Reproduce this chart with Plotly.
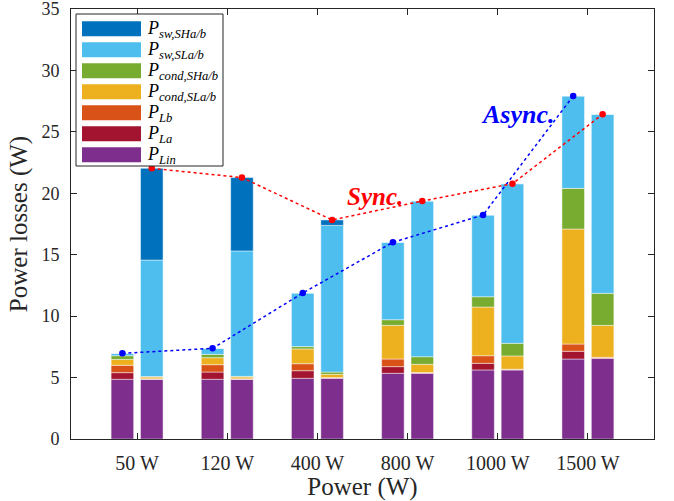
import plotly.graph_objects as go

# ---------------- data ----------------
categories = ["50 W", "120 W", "400 W", "800 W", "1000 W", "1500 W"]
y_ticks = [0, 5, 10, 15, 20, 25, 30, 35]

# Asynchronous (left bars)
async_Lin = [4.86, 4.86, 4.94, 5.35, 5.62, 6.51]
async_La = [0.54, 0.59, 0.62, 0.54, 0.54, 0.63]
async_Lb = [0.60, 0.60, 0.57, 0.62, 0.62, 0.59]
async_condSL = [0.48, 0.57, 1.20, 2.74, 3.96, 9.36]
async_condSH = [0.30, 0.27, 0.19, 0.46, 0.84, 3.31]
async_swSL = [0.19, 0.49, 4.36, 6.30, 6.65, 7.52]
async_swSH = [0.00, 0.00, 0.00, 0.00, 0.00, 0.00]

# Synchronous (right bars)
sync_Lin = [4.86, 4.86, 4.94, 5.35, 5.62, 6.57]
sync_La = [0.02, 0.02, 0.03, 0.03, 0.03, 0.03]
sync_Lb = [0.02, 0.02, 0.03, 0.03, 0.03, 0.05]
sync_condSL = [0.15, 0.15, 0.26, 0.67, 1.08, 2.60]
sync_condSH = [0.03, 0.05, 0.19, 0.62, 1.03, 2.61]
sync_swSL = [9.49, 10.21, 11.94, 12.67, 12.99, 14.57]
sync_swSH = [7.46, 5.97, 0.44, 0.00, 0.00, 0.00]

names = ["P_Lin", "P_La", "P_Lb", "P_cond,SLa/b", "P_cond,SHa/b", "P_sw,SLa/b", "P_sw,SHa/b"]
labels_html = [
    "<i>P</i><sub><i>Lin</i></sub>",
    "<i>P</i><sub><i>La</i></sub>",
    "<i>P</i><sub><i>Lb</i></sub>",
    "<i>P</i><sub><i>cond,SLa/b</i></sub>",
    "<i>P</i><sub><i>cond,SHa/b</i></sub>",
    "<i>P</i><sub><i>sw,SLa/b</i></sub>",
    "<i>P</i><sub><i>sw,SHa/b</i></sub>",
]
colors = ["#7E2F8E", "#A2142F", "#D95319", "#EDB120", "#77AC30", "#4DBEEE", "#0072BD"]

async_parts = [async_Lin, async_La, async_Lb, async_condSL, async_condSH, async_swSL, async_swSH]
sync_parts = [sync_Lin, sync_La, sync_Lb, sync_condSL, sync_condSH, sync_swSL, sync_swSH]

# ---------------- figure ----------------
idx = list(range(1, len(categories) + 1))
OFF = 0.163
BW = 0.25
x_async = [i - OFF for i in idx]
x_sync = [i + OFF for i in idx]

FONT = "Liberation Serif, Times New Roman, serif"
fig = go.Figure()

for name, col, a, s in zip(names, colors, async_parts, sync_parts):
    fig.add_trace(go.Bar(
        x=x_async + x_sync, y=a + s, name=name, width=BW,
        marker=dict(color=col, line=dict(color="rgba(255,255,255,0.45)", width=1)),
        showlegend=False,
    ))

async_total = [sum(v) for v in zip(*async_parts)]
sync_total = [sum(v) for v in zip(*sync_parts)]

fig.add_trace(go.Scatter(x=x_async, y=async_total, mode="lines+markers",
                         line=dict(color="#0000FF", dash="dot", width=1.5),
                         marker=dict(color="#0000FF", size=6.5), showlegend=False))
fig.add_trace(go.Scatter(x=x_sync, y=sync_total, mode="lines+markers",
                         line=dict(color="#FF0000", dash="dot", width=1.5),
                         marker=dict(color="#FF0000", size=6.5), showlegend=False))

# plot-area geometry (pixels)
W, H = 674, 501
L, R, T, B = 71, 20, 9, 62
PW, PH = W - L - R, H - T - B

def px(xp):
    return (xp - L) / PW

def py(yp):
    return (H - B - yp) / PH

shapes = []
annotations = []
# legend box
shapes.append(dict(type="rect", xref="paper", yref="paper",
                   x0=px(76), x1=px(223), y0=py(166), y1=py(14),
                   line=dict(color="#262626", width=1), fillcolor="white", layer="above"))
order = list(range(len(names)))[::-1]  # top: sw,SH ... bottom: Lin
for row, k in enumerate(order):
    cy = 28.8 + 21 * row
    shapes.append(dict(type="rect", xref="paper", yref="paper",
                       x0=px(82), x1=px(141), y0=py(cy + 7.5), y1=py(cy - 7.5),
                       line=dict(width=0), fillcolor=colors[k], layer="above"))
    annotations.append(dict(xref="paper", yref="paper", x=px(145), y=py(cy + 1),
                            xanchor="left", yanchor="middle", showarrow=False,
                            text=labels_html[k],
                            font=dict(family=FONT, size=18, color="#000000")))

annotations.append(dict(x=3.64, y=19.75, xref="x", yref="y", showarrow=False,
                        text="<b><i>Sync.</i></b>",
                        font=dict(family=FONT, size=25, color="#FF0000")))
annotations.append(dict(x=5.22, y=26.4, xref="x", yref="y", showarrow=False,
                        text="<b><i>Async.</i></b>",
                        font=dict(family=FONT, size=26, color="#0000FF")))

fig.update_layout(
    width=W, height=H,
    margin=dict(l=L, r=R, t=T, b=B, pad=0, autoexpand=False),
    barmode="relative",
    plot_bgcolor="white", paper_bgcolor="white",
    font=dict(family=FONT, size=20, color="#262626"),
    shapes=shapes, annotations=annotations,
    showlegend=False,
)
fig.update_xaxes(
    range=[0.267, 6.733], tickmode="array", tickvals=idx, ticktext=categories,
    ticks="inside", ticklen=6, tickcolor="#262626", showline=True,
    linecolor="#262626", linewidth=1, mirror="allticks", showgrid=False,
    zeroline=False, title=dict(text="Power (W)", font=dict(size=25), standoff=4),
    tickfont=dict(size=20), ticklabelstandoff=6, automargin=False,
)
fig.update_yaxes(
    range=[0, 35.0001], tickmode="array", tickvals=y_ticks,
    ticks="inside", ticklen=6, tickcolor="#262626",
    showline=True, linecolor="#262626", linewidth=1, mirror="allticks",
    showgrid=False, zeroline=False,
    title=dict(text="Power losses (W)", font=dict(size=25), standoff=6),
    tickfont=dict(size=18), ticklabelstandoff=7, automargin=False,
    ticklabeloverflow="allow",
)

fig.write_html("out.html")
